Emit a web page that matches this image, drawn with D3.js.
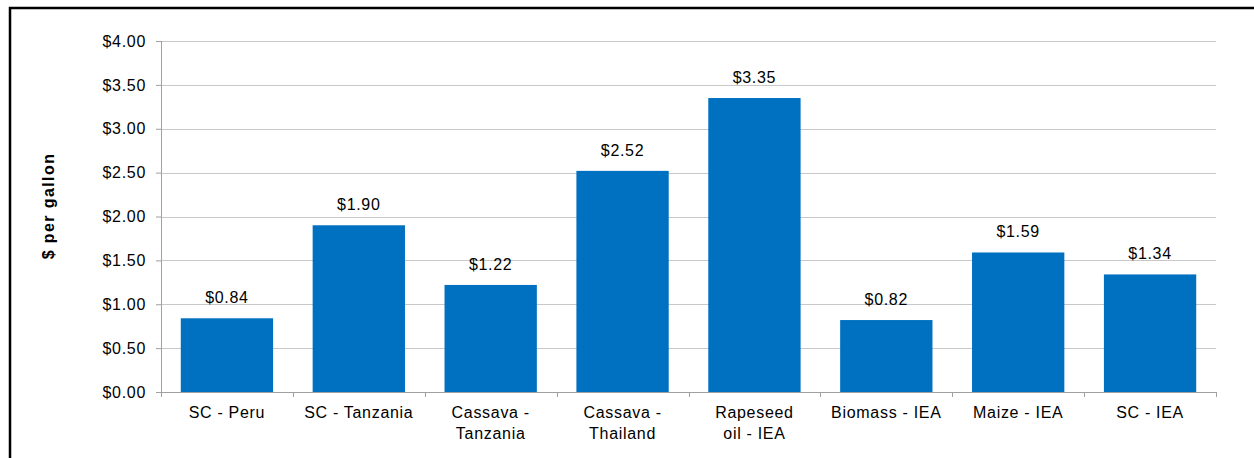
<!DOCTYPE html>
<html>
<head>
<meta charset="utf-8">
<script src="https://cdn.jsdelivr.net/npm/d3@7"></script>
<style>
  body { margin: 0; background: #fff; }
  svg { display: block; font-family: "Liberation Sans", Arial, sans-serif; }
</style>
</head>
<body>
<div id="chart"></div>
<script>
// Chart data
var categories = [
  ["SC - Peru"],
  ["SC - Tanzania"],
  ["Cassava -", "Tanzania"],
  ["Cassava -", "Thailand"],
  ["Rapeseed", "oil - IEA"],
  ["Biomass - IEA"],
  ["Maize - IEA"],
  ["SC - IEA"]
];
var values = [0.84, 1.90, 1.22, 2.52, 3.35, 0.82, 1.59, 1.34];
var yTicks = [0, 0.5, 1, 1.5, 2, 2.5, 3, 3.5, 4];

var W = 1254, H = 458;
var margin = { top: 41, right: 38, bottom: 66, left: 161 };
var width = W - margin.left - margin.right;
var height = H - margin.top - margin.bottom;
var fontSize = "16px";
var spacing = "0.7px";

var svg = d3.select("#chart").append("svg")
  .attr("width", W)
  .attr("height", H);

// outer border
svg.append("rect")
  .attr("x", 10).attr("y", 8)
  .attr("width", W + 10).attr("height", H + 10)
  .attr("fill", "none")
  .attr("stroke", "#000")
  .attr("stroke-width", 2.5);

var g = svg.append("g")
  .attr("transform", "translate(" + margin.left + "," + margin.top + ")");

var x = d3.scaleBand()
  .domain(d3.range(categories.length))
  .range([0, width])
  .paddingInner(0.3)
  .paddingOuter(0.15);

var y = d3.scaleLinear()
  .domain([0, 4])
  .range([height, 0]);

// gridlines
g.append("g")
  .selectAll("line")
  .data(yTicks.filter(function(d) { return d > 0; }))
  .enter().append("line")
  .attr("x1", 0).attr("x2", width)
  .attr("y1", function(d) { return Math.round(y(d)) + 0.5; })
  .attr("y2", function(d) { return Math.round(y(d)) + 0.5; })
  .attr("stroke", "#c8c8c8")
  .attr("stroke-width", 1.2);

// bars
g.selectAll(".bar")
  .data(values)
  .enter().append("rect")
  .attr("class", "bar")
  .attr("x", function(d, i) { return x(i); })
  .attr("y", function(d) { return y(d); })
  .attr("width", x.bandwidth())
  .attr("height", function(d) { return height - y(d); })
  .attr("fill", "#0070C0");

// value labels
g.selectAll(".val")
  .data(values)
  .enter().append("text")
  .attr("class", "val")
  .attr("x", function(d, i) { return x(i) + x.bandwidth() / 2; })
  .attr("y", function(d) { return y(d) - 15; })
  .attr("text-anchor", "middle")
  .attr("font-size", fontSize)
  .attr("letter-spacing", spacing)
  .attr("fill", "#000")
  .text(function(d) { return "$" + d.toFixed(2); });

// y axis
var yAxis = d3.axisLeft(y)
  .tickValues(yTicks)
  .tickSize(5)
  .tickPadding(10)
  .tickFormat(function(d) { return "$" + d.toFixed(2); });

var yG = g.append("g").call(yAxis);
yG.select(".domain").attr("stroke", "#a0a0a0").attr("d", "M0.5,0V" + height);
yG.selectAll(".tick line").attr("stroke", "#a0a0a0");
yG.selectAll(".tick text")
  .attr("font-size", fontSize)
  .attr("letter-spacing", spacing)
  .attr("font-family", "Liberation Sans, Arial, sans-serif")
  .attr("fill", "#000");

// x axis
var xG = g.append("g")
  .attr("transform", "translate(0," + height + ")");
xG.append("line")
  .attr("x1", 0).attr("x2", width)
  .attr("y1", 0.5).attr("y2", 0.5)
  .attr("stroke", "#a0a0a0");
xG.selectAll(".xtick")
  .data(d3.range(categories.length + 1))
  .enter().append("line")
  .attr("x1", function(d) { return Math.round(d * width / categories.length) + 0.5; })
  .attr("x2", function(d) { return Math.round(d * width / categories.length) + 0.5; })
  .attr("y1", 0).attr("y2", 5)
  .attr("stroke", "#a0a0a0");

var xl = xG.selectAll(".xlab")
  .data(categories)
  .enter().append("text")
  .attr("class", "xlab")
  .attr("text-anchor", "middle")
  .attr("font-size", fontSize)
  .attr("letter-spacing", spacing)
  .attr("fill", "#000")
  .attr("transform", function(d, i) { return "translate(" + (x(i) + x.bandwidth() / 2) + ",26)"; });
xl.selectAll("tspan")
  .data(function(d) { return d; })
  .enter().append("tspan")
  .attr("x", 0)
  .attr("dy", function(d, i) { return i === 0 ? 0 : 21; })
  .text(function(d) { return d; });

// y axis title
svg.append("text")
  .attr("transform", "translate(54,206) rotate(-90)")
  .attr("text-anchor", "middle")
  .attr("font-size", "16px")
  .attr("letter-spacing", "1.4px")
  .attr("font-weight", "bold")
  .text("$ per gallon");
</script>
</body>
</html>
